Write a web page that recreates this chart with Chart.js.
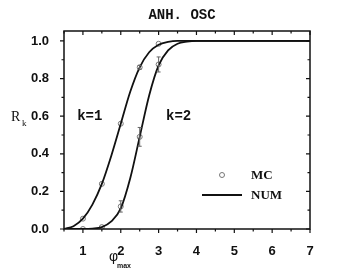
<!DOCTYPE html>
<html>
<head>
<meta charset="utf-8">
<script src="https://cdn.jsdelivr.net/npm/chart.js@4/dist/chart.umd.min.js"></script>
<style>
  html, body { margin: 0; padding: 0; background: #fff; }
  #wrap { width: 360px; height: 275px; }
</style>
</head>
<body>
<div id="wrap"><canvas id="chart" width="360" height="275"></canvas></div>
<script>
// numerical curves
const curveX = [0.5, 0.75, 1.0, 1.25, 1.5, 1.75, 2.0, 2.25, 2.5, 2.75, 3.0, 3.25, 3.5, 3.75, 4.0, 4.5, 5, 6, 7];
const numK1 = [0.0, 0.015, 0.055, 0.13, 0.24, 0.39, 0.56, 0.73, 0.86, 0.94, 0.98, 0.995, 1.0, 1.0, 1.0, 1.0, 1.0, 1.0, 1.0];
const numK2 = [0.0, 0.0, 0.0, 0.002, 0.01, 0.04, 0.11, 0.27, 0.49, 0.71, 0.87, 0.95, 0.985, 0.996, 1.0, 1.0, 1.0, 1.0, 1.0];

// Monte Carlo points
const mcX = [1.0, 1.5, 2.0, 2.5, 3.0];
const mcK1 = [0.055, 0.24, 0.56, 0.86, 0.985];
const mcK2 = [0.0, 0.01, 0.12, 0.49, 0.875];
const errK1 = [0, 0, 0, 0.01, 0];
const errK2 = [0, 0, 0.03, 0.05, 0.04];

const xTicks = [1, 2, 3, 4, 5, 6, 7];
const yTicks = [0.0, 0.2, 0.4, 0.6, 0.8, 1.0];

const pts = (xs, ys) => xs.map((x, i) => ({ x: x, y: ys[i] }));

// error bars, frame, ticks, texts
const decor = {
  id: 'decor',
  afterDatasetsDraw(chart) {
    const ctx = chart.ctx;
    const xs = chart.scales.x, ys = chart.scales.y;
    const a = chart.chartArea;
    ctx.save();

    // error bars
    ctx.strokeStyle = '#666';
    ctx.lineWidth = 1;
    [[mcK1, errK1], [mcK2, errK2]].forEach(([vals, errs]) => {
      mcX.forEach((x, i) => {
        if (!errs[i]) return;
        const px = xs.getPixelForValue(x);
        const y1 = ys.getPixelForValue(vals[i] + errs[i]);
        const y2 = ys.getPixelForValue(vals[i] - errs[i]);
        ctx.beginPath();
        ctx.moveTo(px, y1); ctx.lineTo(px, y2);
        ctx.moveTo(px - 2, y1); ctx.lineTo(px + 2, y1);
        ctx.moveTo(px - 2, y2); ctx.lineTo(px + 2, y2);
        ctx.stroke();
      });
    });

    // frame
    ctx.strokeStyle = '#111';
    ctx.lineWidth = 1.5;
    ctx.strokeRect(a.left, a.top, a.right - a.left, a.bottom - a.top);

    // ticks
    ctx.lineWidth = 1.2;
    ctx.beginPath();
    for (let v = 0.5; v <= 7.001; v += 0.5) {
      const px = xs.getPixelForValue(v);
      const major = Math.abs(v - Math.round(v)) < 0.01;
      const len = major ? 4 : 2.5;
      ctx.moveTo(px, a.bottom); ctx.lineTo(px, a.bottom + len);
      ctx.moveTo(px, a.top); ctx.lineTo(px, a.top + len);
    }
    for (let i = 0; i <= 10; i++) {
      const v = i / 10;
      const py = ys.getPixelForValue(v);
      const len = i % 2 === 0 ? 4 : 2.5;
      ctx.moveTo(a.left, py); ctx.lineTo(a.left - len, py);
      ctx.moveTo(a.right, py); ctx.lineTo(a.right - len, py);
    }
    ctx.stroke();

    // curve labels
    ctx.fillStyle = '#111';
    ctx.font = 'bold 14px "Liberation Mono", monospace';
    ctx.textAlign = 'center';
    ctx.textBaseline = 'middle';
    ctx.fillText('k=1', xs.getPixelForValue(1.18), ys.getPixelForValue(0.6));
    ctx.fillText('k=2', xs.getPixelForValue(3.53), ys.getPixelForValue(0.6));

    // legend
    ctx.strokeStyle = '#777';
    ctx.lineWidth = 1;
    ctx.fillStyle = '#fff';
    ctx.beginPath();
    ctx.arc(222, 175, 2.5, 0, Math.PI * 2);
    ctx.fill(); ctx.stroke();
    ctx.strokeStyle = '#111';
    ctx.lineWidth = 1.8;
    ctx.beginPath();
    ctx.moveTo(202, 195); ctx.lineTo(242, 195);
    ctx.stroke();
    ctx.fillStyle = '#111';
    ctx.font = 'bold 13px "Liberation Serif", serif';
    ctx.textAlign = 'left';
    ctx.fillText('MC', 251, 176);
    ctx.fillText('NUM', 251, 196);

    // title
    ctx.font = 'bold 14px "Liberation Mono", monospace';
    ctx.textAlign = 'center';
    ctx.fillText('ANH. OSC', 182, 15);

    // axis titles
    ctx.textAlign = 'left';
    ctx.font = '14px "Liberation Serif", serif';
    ctx.fillText('R', 11, 117);
    ctx.font = '9px "Liberation Serif", serif';
    ctx.fillText('k', 22, 124);
    ctx.font = '14px "Liberation Sans", sans-serif';
    ctx.fillText('\u03c6', 109, 257);
    ctx.font = 'bold 7px "Liberation Sans", sans-serif';
    ctx.fillText('max', 117, 266);

    ctx.restore();
  }
};

const tickFont = { family: '"Liberation Sans", Arial, sans-serif', size: 13, weight: 'bold' };

new Chart(document.getElementById('chart'), {
  type: 'scatter',
  data: {
    datasets: [
      {
        type: 'line', data: pts(curveX, numK1), borderColor: '#111', borderWidth: 1.8,
        pointRadius: 0, cubicInterpolationMode: 'monotone', fill: false
      },
      {
        type: 'line', data: pts(curveX, numK2), borderColor: '#111', borderWidth: 1.8,
        pointRadius: 0, cubicInterpolationMode: 'monotone', fill: false
      },
      {
        data: pts(mcX, mcK1), pointRadius: 2.5, pointBackgroundColor: '#fff',
        pointBorderColor: '#777', pointBorderWidth: 1
      },
      {
        data: pts(mcX, mcK2), pointRadius: 2.5, pointBackgroundColor: '#fff',
        pointBorderColor: '#777', pointBorderWidth: 1
      }
    ]
  },
  options: {
    responsive: false,
    animation: false,
    events: [],
    layout: { padding: { left: 0, top: 31, right: 50, bottom: 0 } },
    plugins: { legend: { display: false }, tooltip: { enabled: false } },
    scales: {
      x: {
        type: 'linear', min: 0.5, max: 7,
        grid: { display: false }, border: { display: false },
        afterBuildTicks: s => { s.ticks = xTicks.map(v => ({ value: v })); },
        afterFit: s => { s.height = 46; },
        ticks: { font: tickFont, color: '#111', padding: 7, maxRotation: 0,
                 callback: v => String(v) }
      },
      y: {
        type: 'linear', min: 0, max: 1.053,
        grid: { display: false }, border: { display: false },
        afterBuildTicks: s => { s.ticks = yTicks.map(v => ({ value: v })); },
        afterFit: s => { s.width = 64; },
        ticks: { font: tickFont, color: '#111', padding: 7,
                 callback: v => v.toFixed(1) }
      }
    }
  },
  plugins: [decor]
});
</script>
</body>
</html>
